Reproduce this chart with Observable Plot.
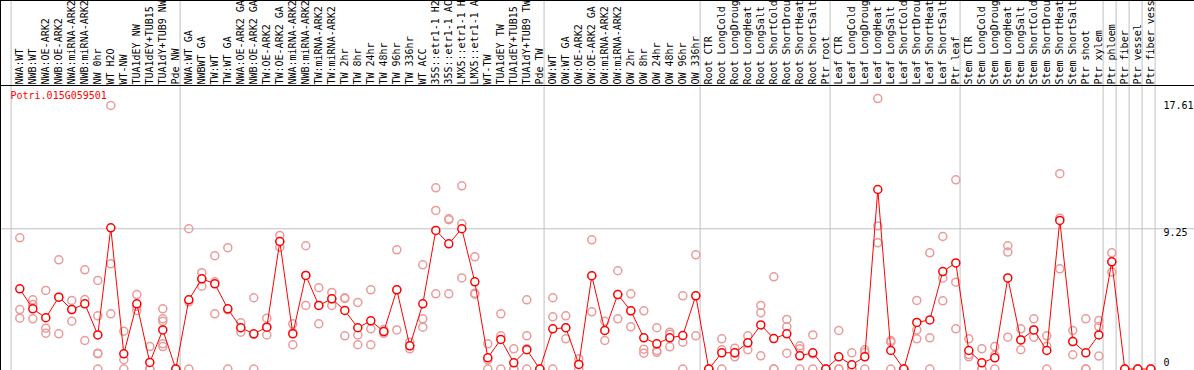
<!DOCTYPE html>
<html>
<head>
<meta charset="utf-8">
<script src="https://cdn.jsdelivr.net/npm/d3@7"></script>
<script src="https://cdn.jsdelivr.net/npm/@observablehq/plot@0.6"></script>
<style>
  html, body { margin: 0; padding: 0; background: white; }
  #chart svg { display: block; }
</style>
</head>
<body>
<div id="chart"></div>
<script>
const title = "Potri.015G059501";

const samples = [
  "NWA:WT", "NWB:WT", "NWA:OE-ARK2", "NWB:OE-ARK2", "NWA:miRNA-ARK2", "NWB:miRNA-ARK2",
  "NW 0hr", "WT H2O", "WT-NW", "TUA1dEY NW", "TUA1dEY+TUB15", "TUA1dY+TUB9 NW", "Pde NW",
  "NWA:WT GA", "NWBWT GA", "TW:WT", "TW:WT GA", "NWA:OE-ARK2 GA", "NWB:OE-ARK2 GA",
  "TW:OE-ARK2", "TW:OE-ARK2 GA", "NWA:miRNA-ARK2", "NWB:miRNA-ARK2", "TW:miRNA-ARK2", "TW:miRNA-ARK2",
  "TW 2hr", "TW 8hr", "TW 24hr", "TW 48hr", "TW 96hr", "TW 336hr", "WT ACC",
  "35S::etr1-1 H2", "35S::etr1-1 AC", "LMX5::etr1-1 H", "LMX5::etr1-1 A",
  "WT-TW", "TUA1dEY TW", "TUA1dEY+TUB15", "TUA1dY+TUB9 TW", "Pde TW",
  "OW:WT", "OW:WT GA", "OW:OE-ARK2", "OW:OE-ARK2 GA", "OW:miRNA-ARK2", "OW:miRNA-ARK2",
  "OW 2hr", "OW 8hr", "OW 24hr", "OW 48hr", "OW 96hr", "OW 336hr",
  "Root CTR", "Root LongCold", "Root LongDroug", "Root LongHeat", "Root LongSalt",
  "Root ShortCold", "Root ShortDrou", "Root ShortHeat", "Root ShortSalt", "Ptr root",
  "Leaf CTR", "Leaf LongCold", "Leaf LongDroug", "Leaf LongHeat", "Leaf LongSalt",
  "Leaf ShortCold", "Leaf ShortDrou", "Leaf ShortHeat", "Leaf ShortSalt", "Ptr leaf",
  "Stem CTR", "Stem LongCold", "Stem LongDroug", "Stem LongHeat", "Stem LongSalt",
  "Stem ShortCold", "Stem ShortDrou", "Stem ShortHeat", "Stem ShortSalt", "Ptr shoot",
  "Ptr xylem", "Ptr phloem", "Ptr fiber", "Ptr vessel", "Ptr fiber vess"
];

// index of the first sample of each group (last value = end of last group)
const groupStarts = [0, 13, 41, 53, 63, 73, 84, 85, 86, 87, 88];

const means = [
  5.29, 3.97, 3.38, 4.74, 3.92, 4.30, 2.25, 9.31, 1.00, 4.30, 0.43, 2.58, 0,
  4.56, 5.95, 5.62, 3.97, 2.72, 2.32, 2.76, 8.41, 2.32, 6.17, 4.19, 4.63, 3.86,
  2.72, 3.18, 2.47, 5.22, 1.53, 4.30, 9.14, 8.26, 9.25, 5.75, 0.74, 1.95, 0.41, 1.27, 0,
  2.65, 2.72, 0.30, 6.15, 2.54, 4.91, 3.84, 2.06, 1.66, 2.06, 2.21, 4.83,
  0, 1.07, 1.07, 1.73, 2.91, 2.01, 2.32, 0.87, 1.07, 0,
  0.80, 0.28, 0.80, 11.84, 1.22, 0, 3.07, 3.24, 6.43, 7.00,
  1.22, 0.41, 0.74, 6.01, 1.92, 2.58, 1.22, 9.80, 1.81, 1.07, 2.25,
  7.07, 0, 0, 0
];

const replicates = [
  [8.65, 3.92, 3.35], [4.56, 4.25, 3.31], [5.18, 2.69, 2.36], [7.2, 4.74, 2.32],
  [4.52, 3.92, 3.15], [6.54, 4.58, 1.88], [5.84, 3.51, 1.04, 1.0, 0], [17.38, 6.94, 3.64],
  [2.49, 0.61, 0], [4.91, 4.13, 3.86], [1.48, 0, 0], [3.97, 3.31, 3.15, 1.66, 1.48], [0, 0, 0],
  [9.25, 4.43, 0], [6.35, 5.95, 5.46], [7.47, 5.75, 3.64], [8.0, 3.9, 0], [3.05, 2.72, 2.43],
  [4.70, 2.3, 0], [3.35, 2.76, 2.25], [8.81, 8.41, 8.03], [2.98, 2.4, 1.6], [8.13, 6.17, 4.19],
  [5.36, 4.19, 2.98], [5.05, 4.63, 4.19], [4.70, 4.65, 2.19], [4.39, 2.25, 1.6], [5.22, 2.65, 1.6],
  [2.6, 2.47, 2.35], [7.86, 5.22, 2.58], [1.77, 1.53, 1.33], [6.87, 3.31, 2.76],
  [11.95, 10.46, 4.96], [9.91, 9.85, 4.96], [12.08, 9.58, 6.01], [7.40, 5.0, 4.93],
  [1.66, 0.6, 0], [3.64, 2.19, 0], [1.33, 0, 0], [4.56, 2.19, 1.33, 0], [0, 0, 0],
  [4.70, 3.44, 0], [3.51, 2.72, 1.99], [0.67, 0.3, 0], [8.52, 6.15, 3.77], [3.15, 2.54, 1.88],
  [6.48, 4.91, 3.31], [4.96, 3.84, 2.78], [3.84, 1.31, 1.04], [2.72, 1.22, 1.1],
  [2.43, 2.3, 1.46], [4.83, 1.77, 0], [7.53, 4.83, 2.19],
  [0, 0, 0], [1.99, 1.27, 0], [1.37, 1.07, 0.8], [2.19, 1.73, 1.27], [4.19, 3.71, 0.87],
  [6.08, 0, 0], [3.27, 2.78, 1.04], [1.53, 1.33, 0], [2.25, 1.0, 0], [0, 0, 0],
  [2.54, 0, 0], [1.07, 0, 0], [1.27, 1.1, 0], [17.84, 9.44, 8.32], [1.88, 1.78, 0], [0, 0, 0],
  [4.52, 2.58, 1.99], [7.66, 2.06, 0], [8.74, 5.99, 4.50], [12.48, 5.73, 2.65],
  [1.99, 0.95, 0.8], [1.33, 0, 0], [1.48, 0.9, 0], [8.13, 7.71, 2.10], [2.65, 1.92, 1.27],
  [3.31, 2.58, 2.10], [2.19, 1.5, 0], [12.88, 9.95, 6.61], [2.54, 1.81, 0.94], [3.31, 0, 0],
  [3.2, 2.8, 0.85], [7.66, 7.07, 6.39], [0, 0, 0], [0, 0, 0], [0, 0, 0]
];

const yTicks = [17.61, 9.25, 0];
const gridValues = [9.25];

// tables built from the arrays above
const meanRows = means.map((v, i) => ({i, v}));
const repRows = replicates.flatMap((vals, i) => vals.map(v => ({i, v})));

const mono = "DejaVu Sans Mono";

const chart = Plot.plot({
  width: 1194,
  height: 370,
  marginTop: 0, marginRight: 0, marginBottom: 0, marginLeft: 0,
  style: {background: "white", fontFamily: mono, fontSize: "10px", overflow: "hidden"},
  x: {type: "linear", domain: [0, samples.length - 1], range: [19.3, 1150.3], axis: null},
  y: {type: "linear", domain: [0, 18.7], range: [368.5, 85], axis: null},
  marks: [
    // group separators
    Plot.ruleX(groupStarts, {x: d => d - 0.67, stroke: "#c0c0c0", strokeWidth: 1}),
    // horizontal grid
    Plot.ruleY(gridValues, {stroke: "#c0c0c0", strokeWidth: 1}),
    // outer frame and header border
    Plot.frame({stroke: "black"}),
    Plot.frame({stroke: "black", insetTop: 85}),
    // sample labels
    Plot.text(samples, {
      x: (d, i) => i, text: d => d, frameAnchor: "top", dy: 84,
      rotate: -90, textAnchor: "start", lineAnchor: "middle",
      fill: "black", fontFamily: mono, fontSize: 10
    }),
    // title
    Plot.text([title], {
      text: d => d, frameAnchor: "top-left", dx: 10, dy: 91,
      textAnchor: "start", lineAnchor: "top", fill: "red", fontFamily: mono, fontSize: 10
    }),
    // right axis labels
    Plot.text(yTicks.filter(v => v > 0), {
      y: d => d, text: d => String(d), frameAnchor: "left", dx: 1163, dy: 0,
      textAnchor: "start", lineAnchor: "top", fill: "black", fontFamily: mono, fontSize: 10
    }),
    Plot.text(yTicks.filter(v => v === 0), {
      y: d => d, text: d => String(d), frameAnchor: "left", dx: 1163, dy: -3,
      textAnchor: "start", lineAnchor: "bottom", fill: "black", fontFamily: mono, fontSize: 10
    }),
    // replicates
    Plot.dot(repRows, {x: "i", y: "v", r: 4, stroke: "#ec9a9a", strokeWidth: 1.5, fill: "none"}),
    // mean line and points
    Plot.line(meanRows, {x: "i", y: "v", stroke: "red", strokeWidth: 1}),
    Plot.dot(meanRows, {x: "i", y: "v", r: 4, stroke: "red", strokeWidth: 1.5, fill: "white"})
  ]
});

document.getElementById("chart").appendChild(chart);
</script>
</body>
</html>
